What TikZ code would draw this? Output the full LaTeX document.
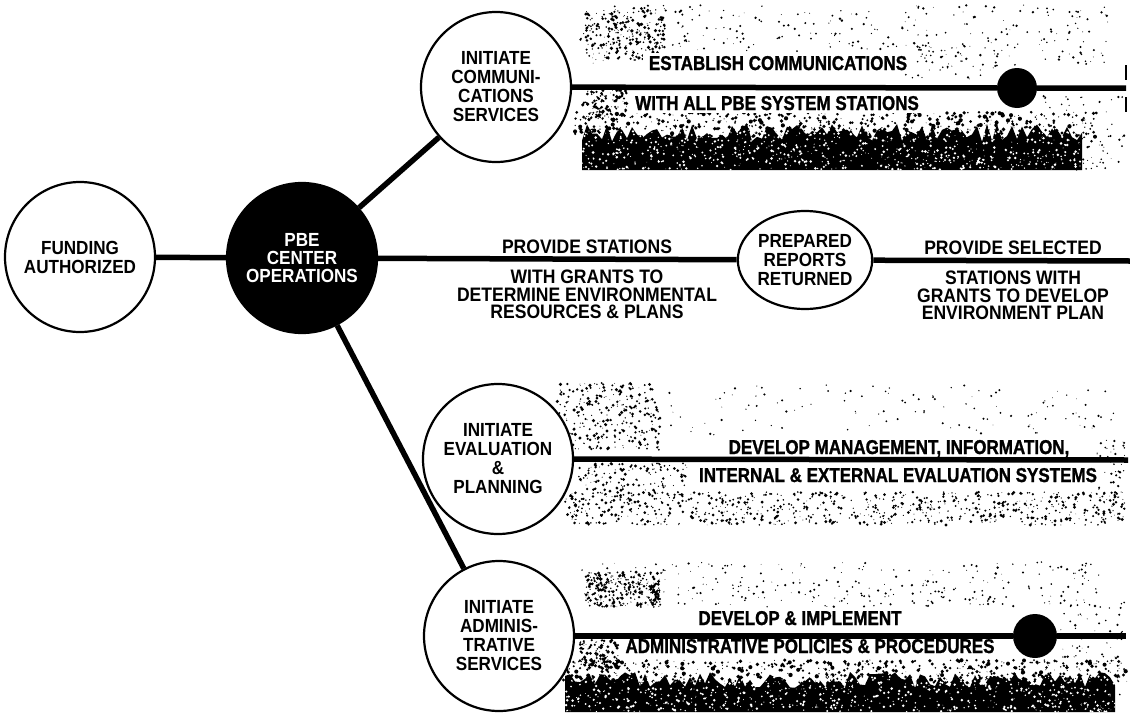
\documentclass[tikz,border=0pt]{standalone}
\usepackage{fontspec}
\setmainfont{Liberation Sans}
\newfontfamily\circfont[FakeStretch=0.9]{Liberation Sans}
\newfontfamily\bandfont[FakeStretch=0.85,FakeBold=1.2]{Liberation Sans}
\usetikzlibrary{shapes.geometric}

% scattered halftone grain, one path per call: x0 y0 width height count max-radius colour
\newcommand\grain[7]{%
  \fill[#7] \foreach \k in {1,...,#5}{%
    ({#1+rnd*#3},{#2+rnd*#4}) circle[radius={0.35+rnd*#6}]
  };}
% solid screen with a ragged top edge: x0 top-y jitter width bottom-y
\newcommand\screen[5]{%
  \fill[black] (#1,#5) \foreach \k in {0,...,#4}{%
    -- ({#1+5*\k},{#2+rnd*#3})
  } -- ({#1+5*#4},#5) -- cycle;}

\begin{document}
\begin{tikzpicture}[x=1pt,y=-1pt,
  stage/.style={circle, draw=black, line width=2.2pt, fill=white,
    minimum size=150pt, inner sep=0pt, align=center,
    font=\circfont\bfseries\fontsize{19}{19}\selectfont},
  hub/.style={stage, fill=black, text=white,
    font=\circfont\bfseries\fontsize{19}{18}\selectfont},
  report/.style={ellipse, draw=black, line width=2.2pt, fill=white,
    minimum width=120pt, minimum height=98pt, inner sep=0pt, align=center,
    font=\circfont\bfseries\fontsize{19}{19}\selectfont},
  junction/.style={circle, fill=black, inner sep=0pt},
  link/.style={line width=5.5pt},
  grantlabel/.style={align=center, inner sep=0pt,
    font=\circfont\bfseries\fontsize{19.5}{17.5}\selectfont},
  task/.style={fill=white, inner xsep=6pt, inner ysep=3pt, anchor=base,
    font=\bandfont\bfseries\fontsize{20}{20}\selectfont},
]
\useasboundingbox (0,0) rectangle (1130,715);
\pgfmathsetseed{1130}

% ---------- halftone bands ----------
% communications band
\grain{580}{5}{530}{60}{300}{1.0}{black}
\grain{585}{8}{80}{52}{240}{1.5}{black}
\grain{905}{45}{95}{35}{50}{1.0}{black}
\grain{582}{90}{45}{30}{120}{1.5}{black}
\screen{582}{124}{18}{100}{170}
\grain{575}{112}{525}{26}{550}{1.8}{black}
\grain{582}{128}{500}{42}{750}{1.1}{white}
\grain{1040}{95}{85}{75}{80}{1.0}{black}
% evaluation band
\grain{553}{383}{107}{67}{300}{1.4}{black}
\grain{660}{385}{460}{50}{120}{0.9}{black}
\grain{578}{463}{110}{32}{140}{1.3}{black}
\grain{565}{492}{560}{33}{800}{1.3}{black}
\grain{1095}{440}{30}{60}{50}{1.0}{black}
% administrative band
\grain{580}{562}{520}{45}{300}{1.0}{black}
\grain{585}{572}{75}{35}{260}{1.5}{black}
\grain{580}{640}{38}{28}{120}{1.5}{black}
\screen{565}{672}{16}{110}{712}
\grain{562}{660}{565}{24}{600}{1.8}{black}
\grain{565}{676}{555}{36}{700}{1.1}{white}
\grain{1060}{600}{65}{110}{100}{1.0}{black}

% ---------- stages ----------
\node[stage] (funding) at (80,257) {FUNDING\\AUTHORIZED};
\node[hub] (hub) at (302,258) {PBE\\CENTER\\OPERATIONS};
\node[stage] (comm) at (496,87) {INITIATE\\COMMUNI-\\CATIONS\\SERVICES};
\node[report] (report) at (805,260) {PREPARED\\REPORTS\\RETURNED};
\node[stage] (eval) at (498,459) {INITIATE\\EVALUATION\\\&\\PLANNING};
\node[stage] (admin) at (499,636) {INITIATE\\ADMINIS-\\TRATIVE\\SERVICES};

\node[junction, minimum size=40pt] (commdot) at (1017,88) {};
\node[junction, minimum size=44pt] (admindot) at (1035,636) {};

\coordinate (commend) at (1126,88);
\coordinate (grantend) at (1130,261);
\coordinate (evalend) at (1128,460);
\coordinate (adminend) at (1126,636);
\coordinate (tickAtop) at (1126,65);
\coordinate (tickAbot) at (1126,80);
\coordinate (tickBtop) at (1126,97);
\coordinate (tickBbot) at (1126,112);

% ---------- labels ----------
\node[task] (commtop) at (778,70) {ESTABLISH COMMUNICATIONS};
\node[task] (commbot) at (777,110) {WITH ALL PBE SYSTEM STATIONS};
\node[grantlabel, anchor=base] (granttopL) at (587,253) {PROVIDE STATIONS};
\node[grantlabel, anchor=north] (grantbotL) at (587,270) {WITH GRANTS TO\\DETERMINE ENVIRONMENTAL\\RESOURCES \& PLANS};
\node[grantlabel, anchor=base] (granttopR) at (1013,254) {PROVIDE SELECTED};
\node[grantlabel, anchor=north] (grantbotR) at (1013,271) {STATIONS WITH\\GRANTS TO DEVELOP\\ENVIRONMENT PLAN};
\node[task] (evaltop) at (899,454) {DEVELOP MANAGEMENT, INFORMATION,};
\node[task] (evalbot) at (898,482) {INTERNAL \& EXTERNAL EVALUATION SYSTEMS};
\node[task] (admintop) at (800,625) {DEVELOP \& IMPLEMENT};
\node[task] (adminbot) at (810,653) {ADMINISTRATIVE POLICIES \& PROCEDURES};

% ---------- connectors ----------
\draw[link] (funding) -- (hub);
\draw[link] (hub) -- (comm);
\draw[link] (hub) -- (report);
\draw[link] (hub) -- (admin);
\draw[link] (report) -- (grantend);
\draw[link] (comm) -- (commdot) -- (commend);
\draw[link] (eval) -- (evalend);
\draw[link] (admin) -- (admindot) -- (adminend);
\draw[line width=2.5pt] (tickAtop) -- (tickAbot);
\draw[line width=2.5pt] (tickBtop) -- (tickBbot);
\end{tikzpicture}
\end{document}
